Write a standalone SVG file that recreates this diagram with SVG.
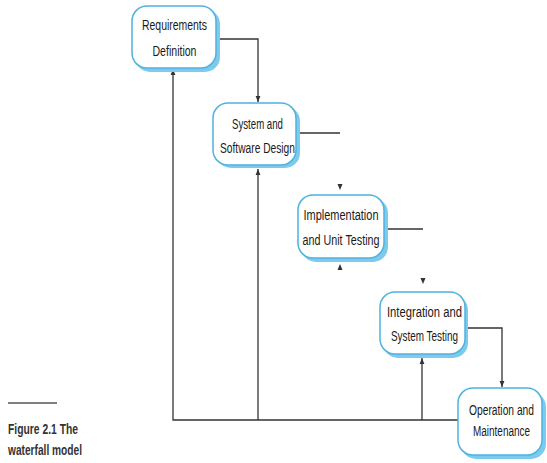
<svg xmlns="http://www.w3.org/2000/svg" width="547" height="463" viewBox="0 0 547 463">
<style>
.shadow{fill:#7ccbec;stroke:none}
.box{fill:#ffffff;stroke:#4fb3df;stroke-width:1.5}
.t{font-family:"Liberation Sans",Arial,sans-serif;font-size:14.5px;fill:#1a1a1a;text-anchor:middle}
.cap{font-family:"Liberation Sans",Arial,sans-serif;font-size:14px;font-weight:bold;fill:#333}
.c{fill:none;stroke:#333;stroke-width:1.3}
.ah{fill:#333}
</style>
<defs>
<marker id="arr" viewBox="0 0 10 10" refX="10" refY="5" markerWidth="6" markerHeight="6" orient="auto" markerUnits="userSpaceOnUse">
<path d="M0,1 L10,5 L0,9 z" fill="#333"/>
</marker>
</defs>
<rect width="547" height="463" fill="#ffffff"/>
<g id="connectors">
<path class="c" d="M216,39 H258 V102" marker-end="url(#arr)"/>
<path class="c" d="M458,420 H173 V69" marker-end="url(#arr)"/>
<path class="c" d="M258,420 V169" marker-end="url(#arr)"/>
<path class="c" d="M422,420 V358" marker-end="url(#arr)"/>
<path class="c" d="M298,133 H340"/>
<path class="c" d="M384,229 H423"/>
<path class="c" d="M465,328 H502 V387" marker-end="url(#arr)"/>
<path class="ah" d="M337.5,184 L342.5,184 L340,190 z"/>
<path class="ah" d="M337.5,270 L342.5,270 L340,264 z"/>
<path class="ah" d="M420.5,278 L425.5,278 L423,284 z"/>
</g>
<g id="n1">
<rect class="shadow" x="135" y="9" width="85" height="63" rx="15"/>
<rect class="box" x="132" y="6" width="84" height="62" rx="15"/>
<g transform="scale(0.75,1)">
<text class="t" x="232.67" y="30" textLength="86.67" lengthAdjust="spacingAndGlyphs">Requirements</text>
<text class="t" x="232.67" y="56" textLength="58.67" lengthAdjust="spacingAndGlyphs">Definition</text>
</g>
</g>
<g id="n2">
<rect class="shadow" x="216" y="106" width="84" height="62" rx="15"/>
<rect class="box" x="213" y="103" width="83" height="62" rx="15"/>
<g transform="scale(0.75,1)">
<text class="t" x="343.33" y="129" textLength="68" lengthAdjust="spacingAndGlyphs">System and</text>
<text class="t" x="343.33" y="153" textLength="100" lengthAdjust="spacingAndGlyphs">Software Design</text>
</g>
</g>
<g id="n3">
<rect class="shadow" x="301" y="198" width="87" height="64" rx="15"/>
<rect class="box" x="298" y="195" width="86" height="63" rx="15"/>
<g transform="scale(0.75,1)">
<text class="t" x="454.67" y="220" textLength="100" lengthAdjust="spacingAndGlyphs">Implementation</text>
<text class="t" x="454.67" y="245" textLength="102.67" lengthAdjust="spacingAndGlyphs">and Unit Testing</text>
</g>
</g>
<g id="n4">
<rect class="shadow" x="383" y="295" width="85" height="63" rx="15"/>
<rect class="box" x="380" y="292" width="85" height="62" rx="15"/>
<g transform="scale(0.75,1)">
<text class="t" x="566" y="317" textLength="100" lengthAdjust="spacingAndGlyphs">Integration and</text>
<text class="t" x="566" y="341" textLength="89.33" lengthAdjust="spacingAndGlyphs">System Testing</text>
</g>
</g>
<g id="n5">
<rect class="shadow" x="461" y="392" width="85" height="67" rx="15"/>
<rect class="box" x="458" y="388" width="84" height="67" rx="15"/>
<g transform="scale(0.75,1)">
<text class="t" x="668.67" y="415" textLength="86.67" lengthAdjust="spacingAndGlyphs">Operation and</text>
<text class="t" x="668.67" y="436" textLength="76" lengthAdjust="spacingAndGlyphs">Maintenance</text>
</g>
</g>
<g id="caption">
<line x1="8" y1="403" x2="57" y2="403" stroke="#555" stroke-width="1.5"/>
<g transform="scale(0.75,1)">
<text class="cap" x="10.67" y="434" textLength="93.33" lengthAdjust="spacingAndGlyphs">Figure 2.1  The</text>
<text class="cap" x="10.67" y="455" textLength="98.67" lengthAdjust="spacingAndGlyphs">waterfall model</text>
</g>
</g>
</svg>
